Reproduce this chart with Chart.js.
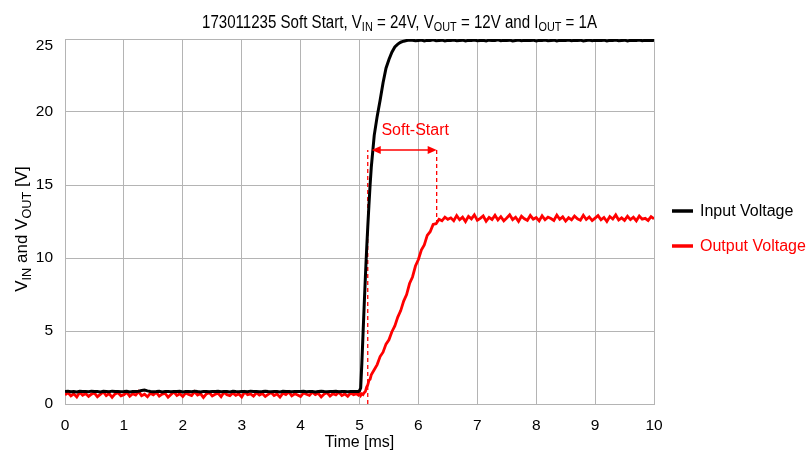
<!DOCTYPE html>
<html>
<head>
<meta charset="utf-8">
<script src="https://cdn.jsdelivr.net/npm/chart.js@4.4.1/dist/chart.umd.min.js"></script>
<style>
html,body{margin:0;padding:0;background:#fff;}
#wrap{width:806px;height:451px;position:relative;}
</style>
</head>
<body>
<div id="wrap"><canvas id="c" width="806" height="451"></canvas></div>
<script>
// ---- data ----
const timeMs = [
0.00,0.05,0.10,0.15,0.20,0.25,0.30,0.35,0.40,0.45,
0.50,0.55,0.60,0.65,0.70,0.75,0.80,0.85,0.90,0.95,
1.00,1.05,1.10,1.15,1.20,1.25,1.30,1.35,1.40,1.45,
1.50,1.55,1.60,1.65,1.70,1.75,1.80,1.85,1.90,1.95,
2.00,2.05,2.10,2.15,2.20,2.25,2.30,2.35,2.40,2.45,
2.50,2.55,2.60,2.65,2.70,2.75,2.80,2.85,2.90,2.95,
3.00,3.05,3.10,3.15,3.20,3.25,3.30,3.35,3.40,3.45,
3.50,3.55,3.60,3.65,3.70,3.75,3.80,3.85,3.90,3.95,
4.00,4.05,4.10,4.15,4.20,4.25,4.30,4.35,4.40,4.45,
4.50,4.55,4.60,4.65,4.70,4.75,4.80,4.85,4.90,4.95,
4.98,5.00,5.02,5.04,5.06,5.08,5.10,5.12,5.14,5.16,5.18,
5.20,5.25,5.30,5.35,5.40,5.45,5.50,5.55,5.60,5.65,5.70,5.75,5.80,5.85,
5.90,5.95,6.00,6.05,6.10,6.15,6.20,6.25,6.30,6.35,6.40,6.45,6.50,
6.55,6.60,6.65,6.70,6.75,6.80,6.85,6.90,6.95,7.00,
7.05,7.10,7.15,7.20,7.25,7.30,7.35,7.40,7.45,7.50,
7.55,7.60,7.65,7.70,7.75,7.80,7.85,7.90,7.95,8.00,
8.05,8.10,8.15,8.20,8.25,8.30,8.35,8.40,8.45,8.50,
8.55,8.60,8.65,8.70,8.75,8.80,8.85,8.90,8.95,9.00,
9.05,9.10,9.15,9.20,9.25,9.30,9.35,9.40,9.45,9.50,
9.55,9.60,9.65,9.70,9.75,9.80,9.85,9.90,9.95,10.00
];

const inputVoltage = [
0.85,0.88,0.84,0.86,0.83,0.87,0.85,0.86,0.84,0.88,
0.86,0.85,0.83,0.87,0.86,0.84,0.88,0.85,0.86,0.84,
0.85,0.87,0.83,0.86,0.85,0.88,0.92,0.95,0.90,0.86,
0.84,0.85,0.87,0.83,0.86,0.85,0.84,0.86,0.85,0.87,
0.83,0.85,0.86,0.84,0.88,0.85,0.83,0.86,0.85,0.84,
0.86,0.85,0.87,0.84,0.85,0.86,0.83,0.87,0.85,0.84,
0.86,0.85,0.84,0.88,0.85,0.86,0.84,0.85,0.87,0.85,
0.84,0.86,0.85,0.83,0.87,0.85,0.86,0.84,0.85,0.86,
0.85,0.87,0.84,0.86,0.85,0.83,0.86,0.88,0.85,0.84,
0.86,0.85,0.87,0.84,0.85,0.86,0.84,0.85,0.86,0.85,
0.86,0.90,1.10,2.80,4.80,6.80,8.70,10.50,12.10,13.60,15.00,
16.20,18.40,19.70,20.80,22.00,23.00,23.60,24.10,24.45,24.65,24.78,24.85,24.90,24.93,
24.92,24.88,24.90,24.93,24.87,24.91,24.89,24.94,24.88,24.90,
24.92,24.86,24.91,24.89,24.93,24.88,24.90,24.92,24.87,24.91,
24.89,24.93,24.88,24.90,24.91,24.87,24.92,24.89,24.90,24.94,
24.88,24.91,24.89,24.92,24.87,24.90,24.93,24.88,24.91,24.89,
24.90,24.92,24.86,24.91,24.89,24.93,24.88,24.90,24.92,24.87,
24.91,24.89,24.90,24.93,24.88,24.91,24.89,24.92,24.87,24.90,
24.93,24.88,24.91,24.89,24.90,24.92,24.86,24.91,24.89,24.93,
24.88,24.90,24.92,24.87,24.91,24.89,24.90,24.93,24.88,24.91,
24.89,24.92,24.90
];

const outputVoltage = [
0.62,0.78,0.55,0.70,0.48,0.81,0.60,0.72,0.52,0.68,
0.75,0.50,0.66,0.83,0.58,0.71,0.46,0.69,0.77,0.56,
0.64,0.80,0.53,0.70,0.61,0.85,0.57,0.67,0.49,0.74,
0.63,0.79,0.54,0.68,0.72,0.47,0.65,0.82,0.59,0.70,
0.51,0.76,0.66,0.58,0.84,0.62,0.71,0.45,0.69,0.78,
0.55,0.67,0.73,0.50,0.80,0.64,0.57,0.75,0.60,0.70,
0.48,0.82,0.63,0.69,0.54,0.77,0.61,0.72,0.52,0.66,
0.79,0.58,0.68,0.47,0.74,0.65,0.83,0.56,0.70,0.62,
0.51,0.76,0.67,0.59,0.81,0.64,0.73,0.49,0.68,0.77,
0.55,0.71,0.62,0.80,0.58,0.69,0.53,0.75,0.64,0.70,
0.62,0.74,0.58,0.70,0.65,0.78,0.85,1.15,1.30,1.62,1.70,
2.00,2.35,2.70,3.25,3.55,4.10,4.40,4.95,5.35,5.95,6.40,7.05,7.50,8.25,
8.70,9.45,9.90,10.55,10.90,11.55,11.80,12.30,12.35,12.65,12.55,12.80,12.65,
12.75,12.55,12.90,12.62,12.80,12.50,12.85,12.68,12.95,12.58,
12.72,12.88,12.52,12.78,12.64,12.92,12.60,12.83,12.55,12.74,
12.96,12.63,12.79,12.51,12.86,12.69,12.58,12.91,12.66,12.77,
12.54,12.89,12.62,12.80,12.70,12.57,12.94,12.65,12.82,12.53,
12.76,12.61,12.87,12.68,12.59,12.93,12.64,12.81,12.56,12.73,
12.90,12.62,12.78,12.50,12.84,12.67,12.95,12.60,12.75,12.58,
12.86,12.63,12.79,12.55,12.88,12.66,12.72,12.57,12.83,12.69
];

const seriesNames = ['Input Voltage', 'Output Voltage'];
const xTickValues = [0,1,2,3,4,5,6,7,8,9,10];
const yTickValues = [0,5,10,15,20,25];

// soft-start annotation (ms / V)
const softStartTimes = [5.14, 6.31];
const softStartArrowV = 17.4;
const softStartEndBottomV = 12.4;
const softStartLabel = 'Soft-Start';

// ---- chart ----
const FONT = '"Liberation Sans", Arial, sans-serif';
const GRID = '#b4b4b4';
const RED = '#ff0000';

function pts(vals){ return vals.map((v,i)=>({x:timeMs[i], y:v})); }

function measureParts(ctx, parts, size, fam, subScale){
  let w = 0;
  parts.forEach(p=>{ ctx.font = (p[1]?size*subScale:size)+'px '+fam; w += ctx.measureText(p[0]).width; });
  return w;
}
function drawParts(ctx, parts, x, y, size, fam, subScale){
  let cx = x;
  ctx.textAlign = 'left';
  ctx.textBaseline = 'alphabetic';
  parts.forEach(p=>{
    ctx.font = (p[1]?size*subScale:size)+'px '+fam;
    ctx.fillText(p[0], cx, y + (p[1]? size*0.22 : 0));
    cx += ctx.measureText(p[0]).width;
  });
}

const annotPlugin = {
  id:'annot',
  beforeDatasetsDraw(chart){
    const ctx = chart.ctx, xs = chart.scales.x, ys = chart.scales.y;
    const x1 = xs.getPixelForValue(softStartTimes[0]);
    const x2 = xs.getPixelForValue(softStartTimes[1]);
    const ya = ys.getPixelForValue(softStartArrowV);
    const y0 = ys.getPixelForValue(0);
    const yb = ys.getPixelForValue(softStartEndBottomV);
    ctx.save();
    ctx.strokeStyle = RED; ctx.lineWidth = 1.3;
    ctx.setLineDash([4,3]);
    ctx.beginPath(); ctx.moveTo(x1, y0); ctx.lineTo(x1, ya); ctx.stroke();
    ctx.beginPath(); ctx.moveTo(x2, ya); ctx.lineTo(x2, yb); ctx.stroke();
    ctx.restore();
  },
  afterDatasetsDraw(chart){
    const ctx = chart.ctx, xs = chart.scales.x, ys = chart.scales.y;
    const x1 = xs.getPixelForValue(softStartTimes[0]) + 4;
    const x2 = xs.getPixelForValue(softStartTimes[1]);
    const ya = ys.getPixelForValue(softStartArrowV);
    ctx.save();
    ctx.strokeStyle = RED; ctx.fillStyle = RED; ctx.lineWidth = 1.5;
    ctx.beginPath(); ctx.moveTo(x1+6, ya); ctx.lineTo(x2-6, ya); ctx.stroke();
    ctx.beginPath(); ctx.moveTo(x1, ya); ctx.lineTo(x1+9, ya-4); ctx.lineTo(x1+9, ya+4); ctx.closePath(); ctx.fill();
    ctx.beginPath(); ctx.moveTo(x2, ya); ctx.lineTo(x2-9, ya-4); ctx.lineTo(x2-9, ya+4); ctx.closePath(); ctx.fill();
    ctx.font = '16px '+FONT; ctx.textAlign='center'; ctx.textBaseline='middle';
    ctx.fillText(softStartLabel, (xs.getPixelForValue(softStartTimes[0])+x2)/2 + 13, ya - 19);
    ctx.restore();
  },
  afterDraw(chart){
    const ctx = chart.ctx, ys = chart.scales.y;
    ctx.save();
    ctx.fillStyle = '#000';
    // y tick labels (top label sits slightly below its gridline, as in the reference)
    ctx.font = '15.5px '+FONT; ctx.textAlign='right'; ctx.textBaseline='middle';
    yTickValues.forEach(v=>{
      const yy = ys.getPixelForValue(v) + (v===ys.max ? 7 : 0);
      ctx.fillText(String(v), 53, yy);
    });
    // title (condensed, as in the reference)
    const tParts = [['173011235 Soft Start, V',0],['IN',1],[' = 24V, V',0],['OUT',1],[' = 12V and I',0],['OUT',1],[' = 1A',0]];
    const tw = measureParts(ctx, tParts, 18, FONT, 0.72);
    const k = 395 / tw;
    ctx.save();
    ctx.translate(202, 27.5);
    ctx.scale(k, 1);
    drawParts(ctx, tParts, 0, 0, 18, FONT, 0.72);
    ctx.restore();
    // y axis title
    const yParts = [['V',0],['IN',1],[' and V',0],['OUT',1],[' [V]',0]];
    const yw = measureParts(ctx, yParts, 17, FONT, 0.75);
    ctx.save();
    ctx.translate(27, 229);
    ctx.rotate(-Math.PI/2);
    drawParts(ctx, yParts, -yw/2, 0, 17, FONT, 0.75);
    ctx.restore();
    // legend
    const colors = ['#000000', RED];
    const ly = [211, 246];
    seriesNames.forEach((n,i)=>{
      ctx.strokeStyle = colors[i]; ctx.lineWidth = 3.5; ctx.setLineDash([]);
      ctx.beginPath(); ctx.moveTo(672, ly[i]); ctx.lineTo(693, ly[i]); ctx.stroke();
      ctx.fillStyle = colors[i];
      ctx.font = '16px '+FONT; ctx.textAlign='left'; ctx.textBaseline='middle';
      ctx.fillText(n, 700, ly[i]+1);
    });
    ctx.restore();
  }
};

new Chart(document.getElementById('c'), {
  type:'line',
  data:{
    datasets:[
      {label:seriesNames[0], data:pts(inputVoltage), borderColor:'#000000', borderWidth:3, pointRadius:0, tension:0, fill:false},
      {label:seriesNames[1], data:pts(outputVoltage), borderColor:RED, borderWidth:2.8, pointRadius:0, tension:0, fill:false}
    ]
  },
  options:{
    responsive:false,
    animation:false,
    events:[],
    layout:{padding:{top:39, right:152, left:0, bottom:0}},
    plugins:{legend:{display:false}, title:{display:false}, tooltip:{enabled:false}},
    scales:{
      x:{
        type:'linear', min:0, max:10,
        afterBuildTicks(s){ s.ticks = xTickValues.map(v=>({value:v})); },
        afterFit(s){ s.height = 47; },
        grid:{color:GRID, lineWidth:1, drawTicks:false},
        border:{color:GRID, width:1},
        ticks:{color:'#000', font:{family:FONT, size:15.5}, padding:12, maxRotation:0},
        title:{display:true, text:'Time [ms]', color:'#000', font:{family:FONT, size:16, lineHeight:1}, padding:{top:0,bottom:0}}
      },
      y:{
        type:'linear', min:0, max:25,
        afterBuildTicks(s){ s.ticks = yTickValues.map(v=>({value:v})); },
        afterFit(s){ s.width = 65; },
        grid:{color:GRID, lineWidth:1, drawTicks:false},
        border:{color:GRID, width:1},
        ticks:{display:false}
      }
    }
  },
  plugins:[annotPlugin]
});
</script>
</body>
</html>
